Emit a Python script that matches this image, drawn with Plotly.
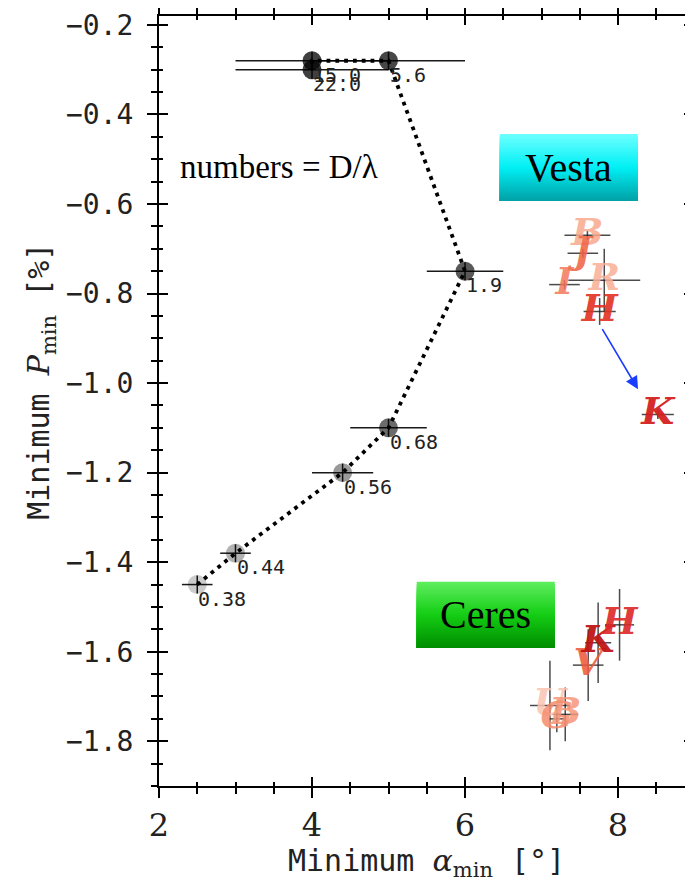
import plotly.graph_objects as go

# ---------------- data ----------------
# D/lambda sequence (grey circles)
dl_labels = ["0.38", "0.44", "0.56", "0.68", "1.9", "5.6", "15.0", "22.0"]
dl_alpha = [2.5, 3.0, 4.4, 5.0, 6.0, 5.0, 4.0, 4.0]
dl_pmin = [-1.45, -1.38, -1.20, -1.10, -0.75, -0.28, -0.28, -0.30]
dl_alpha_err = [0.2, 0.2, 0.4, 0.5, 0.5, 1.0, 1.0, 1.0]
dl_pmin_err = [0.02, 0.02, 0.02, 0.02, 0.02, 0.02, 0.02, 0.02]
dl_colors = ["rgba(0,0,0,0.2)", "rgba(0,0,0,0.3)", "rgba(0,0,0,0.4)",
             "rgba(0,0,0,0.58)", "rgba(0,0,0,0.65)", "rgba(0,0,0,0.72)",
             "rgba(0,0,0,0.75)", "rgba(0,0,0,0.75)"]

# Vesta filters
vesta_filters = ["B", "J", "I", "R", "H", "K"]
vesta_alpha = [7.60, 7.54, 7.30, 7.82, 7.76, 8.52]
vesta_pmin = [-0.67, -0.71, -0.78, -0.77, -0.84, -1.07]
vesta_alpha_err = [0.30, 0.20, 0.20, 0.47, 0.21, 0.21]
vesta_pmin_err = [0.01, 0.01, 0.01, 0.07, 0.03, 0.01]
vesta_colors = ["rgba(248,168,140,0.85)", "rgba(240,100,70,0.9)", "rgba(242,120,90,0.85)",
                "rgba(248,175,150,0.85)", "rgba(226,50,35,0.92)", "rgba(212,30,30,0.95)"]

# Ceres filters
ceres_filters = ["U", "B", "G", "V", "K", "H"]
ceres_alpha = [7.11, 7.31, 7.20, 7.61, 7.74, 8.02]
ceres_pmin = [-1.72, -1.74, -1.75, -1.63, -1.58, -1.54]
ceres_alpha_err = [0.26, 0.17, 0.10, 0.20, 0.17, 0.19]
ceres_pmin_err = [0.10, 0.06, 0.03, 0.08, 0.09, 0.08]
ceres_colors = ["rgba(250,195,178,0.85)", "rgba(246,150,120,0.85)", "rgba(246,140,110,0.85)",
                "rgba(238,90,60,0.9)", "rgba(190,20,20,0.95)", "rgba(222,40,40,0.92)"]

x_range = [2, 8.98]
y_range = [-1.9, -0.18]

fig = go.Figure()

# gradient label boxes (decorations)
def grad_box(x0, x1, ytop, ybot, stops, n=30):
    def interp(t):
        for i in range(len(stops) - 1):
            t0, c0 = stops[i]
            t1, c1 = stops[i + 1]
            if t0 <= t <= t1:
                f = (t - t0) / (t1 - t0) if t1 > t0 else 0
                return tuple(int(round(c0[k] + (c1[k] - c0[k]) * f)) for k in range(3))
        return stops[-1][1]
    h = (ytop - ybot) / n
    for i in range(n):
        c = interp((i + 0.5) / n)
        fig.add_shape(type="rect", xref="x", yref="y", x0=x0, x1=x1,
                      y0=ytop - i * h, y1=ybot,
                      fillcolor="rgb(%d,%d,%d)" % c, line=dict(width=0), layer="below")

grad_box(6.454, 8.258, -0.4436, -0.593,
         [(0, (110, 255, 255)), (0.5, (0, 240, 245)), (1, (0, 160, 165))])
grad_box(5.369, 7.173, -1.444, -1.592,
         [(0, (95, 238, 95)), (0.5, (20, 205, 20)), (1, (0, 140, 0))])

# grey D/lambda markers
fig.add_trace(go.Scatter(
    x=dl_alpha, y=dl_pmin, mode="markers",
    marker=dict(size=19, color=dl_colors, line=dict(width=0)),
    showlegend=False, hoverinfo="skip"))
# error bars for grey points
fig.add_trace(go.Scatter(
    x=dl_alpha, y=dl_pmin, mode="markers",
    marker=dict(size=1, color="rgba(0,0,0,0)"),
    error_x=dict(type="data", array=dl_alpha_err, color="rgba(0,0,0,0.9)", thickness=1.5, width=0),
    error_y=dict(type="data", array=dl_pmin_err, color="rgba(0,0,0,0.9)", thickness=1.5, width=0),
    showlegend=False, hoverinfo="skip"))
# dotted connecting line
fig.add_trace(go.Scatter(
    x=dl_alpha, y=dl_pmin, mode="lines",
    line=dict(color="black", width=3.8, dash="3.8px,5px"),
    showlegend=False, hoverinfo="skip"))

# Vesta / Ceres error bars
for xs, ys, ex, ey in [(vesta_alpha, vesta_pmin, vesta_alpha_err, vesta_pmin_err),
                       (ceres_alpha, ceres_pmin, ceres_alpha_err, ceres_pmin_err)]:
    fig.add_trace(go.Scatter(
        x=xs, y=ys, mode="markers",
        marker=dict(size=1, color="rgba(0,0,0,0)"),
        error_x=dict(type="data", array=ex, color="rgba(30,30,30,0.8)", thickness=1.5, width=0),
        error_y=dict(type="data", array=ey, color="rgba(30,30,30,0.8)", thickness=1.5, width=0),
        showlegend=False, hoverinfo="skip"))

# filter letters
for names, xs, ys, cols in [(vesta_filters, vesta_alpha, vesta_pmin, vesta_colors),
                            (ceres_filters, ceres_alpha, ceres_pmin, ceres_colors)]:
    for n, xv, yv, c in zip(names, xs, ys, cols):
        fig.add_trace(go.Scatter(
            x=[xv], y=[yv], mode="text", text=["<b><i>%s</i></b>" % n],
            textposition="middle center",
            textfont=dict(family="DejaVu Serif", size=38, color=c),
            showlegend=False, hoverinfo="skip"))

annotations = []
# D/lambda labels
for lab, xv, yv in zip(dl_labels, dl_alpha, dl_pmin):
    annotations.append(dict(x=xv, y=yv, xref="x", yref="y", text=lab, showarrow=False,
                            xanchor="left", yanchor="middle", xshift=-1, yshift=-14,
                            font=dict(family="DejaVu Sans Mono", size=20, color="#222")))

# box texts
annotations.append(dict(x=(6.454 + 8.258) / 2, y=(-0.4436 - 0.593) / 2, xref="x", yref="y",
                        text="Vesta", showarrow=False, xanchor="center", yanchor="middle",
                        font=dict(family="Liberation Serif", size=40, color="black")))
annotations.append(dict(x=(5.369 + 7.173) / 2, y=(-1.444 - 1.592) / 2, xref="x", yref="y",
                        text="Ceres", showarrow=False, xanchor="center", yanchor="middle",
                        font=dict(family="Liberation Serif", size=40, color="black")))
annotations.append(dict(x=2.244, y=-0.517, xref="x", yref="y", text="numbers = D/λ",
                        showarrow=False, xanchor="left", yanchor="middle",
                        font=dict(family="Liberation Serif", size=33, color="black")))
# blue arrow
annotations.append(dict(x=8.262, y=-1.014, ax=7.783, ay=-0.876, xref="x", yref="y",
                        axref="x", ayref="y", text="", showarrow=True, arrowhead=2,
                        arrowsize=1.6, arrowwidth=1.6, arrowcolor="#1a3cff"))
# axis titles
annotations.append(dict(x=0.5, y=0, xref="paper", yref="paper", yshift=-76,
                        text='Minimum <span style="font-family:DejaVu Serif"><i>α</i><sub>min</sub></span> [°]',
                        showarrow=False, xanchor="center", yanchor="middle",
                        font=dict(family="DejaVu Sans Mono", size=30, color="#222")))
annotations.append(dict(x=0, y=0.525, xref="paper", yref="paper", xshift=-118,
                        text='Minimum <span style="font-family:DejaVu Serif"><i>P</i><sub>min</sub></span> [%]',
                        textangle=-90, showarrow=False, xanchor="center", yanchor="middle",
                        font=dict(family="DejaVu Sans Mono", size=30, color="#222")))

axis_common = dict(showgrid=False, zeroline=False, automargin=False)

fig.update_layout(
    width=685, height=873,
    margin=dict(l=151, r=0, t=8, b=95),
    paper_bgcolor="white", plot_bgcolor="white",
    showlegend=False,
    annotations=annotations,
    xaxis=dict(range=x_range, tick0=2, dtick=2, ticks="outside", ticklen=10, tickwidth=2,
               tickcolor="black", showline=True, linecolor="black", linewidth=2,
               mirror="allticks", ticklabelstandoff=0,
               tickfont=dict(family="DejaVu Serif", size=32, color="#222"),
               minor=dict(dtick=0.5, ticks="outside", ticklen=6, tickwidth=1.5, tickcolor="black"),
               **axis_common),
    yaxis=dict(range=y_range, tick0=-0.2, dtick=0.2, tickformat=".1f", ticks="outside",
               ticklen=10, tickwidth=2, tickcolor="black", showline=True, linecolor="black",
               linewidth=2, mirror="allticks", ticklabelstandoff=8,
               tickfont=dict(family="DejaVu Sans Mono", size=28, color="#222"),
               minor=dict(dtick=0.05, ticks="outside", ticklen=6, tickwidth=1.5, tickcolor="black"),
               **axis_common),
    xaxis2=dict(range=x_range, overlaying="x", anchor="y", side="bottom", tick0=2, dtick=2,
                ticks="inside", ticklen=9, tickwidth=2, tickcolor="black", showline=False,
                mirror="allticks", showticklabels=False,
                minor=dict(dtick=0.5, ticks="inside", ticklen=4, tickwidth=1.5, tickcolor="black"),
                **axis_common),
    yaxis2=dict(range=y_range, overlaying="y", anchor="x", side="left", tick0=-0.2, dtick=0.2,
                ticks="inside", ticklen=9, tickwidth=2, tickcolor="black", showline=False,
                mirror="allticks", showticklabels=False,
                minor=dict(dtick=0.05, ticks="inside", ticklen=4, tickwidth=1.5, tickcolor="black"),
                **axis_common),
)
# dummy trace to activate overlay axes
fig.add_trace(go.Scatter(x=[None], y=[None], xaxis="x2", yaxis="y2", showlegend=False,
                         hoverinfo="skip"))

fig.write_html("out.html")
